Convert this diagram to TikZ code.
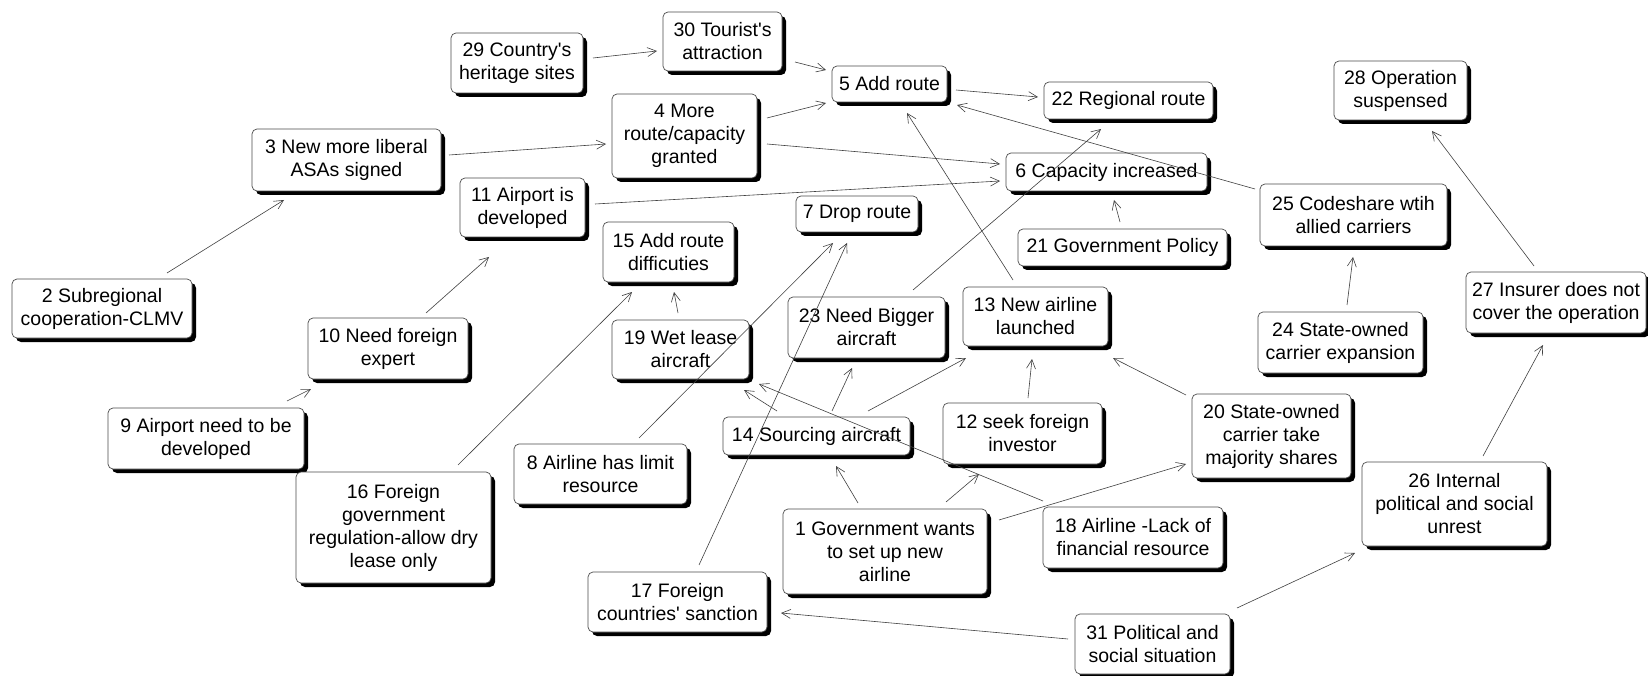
\documentclass[tikz,border=0pt]{standalone}
\usepackage{fontspec}
\setmainfont{Liberation Sans}
\usetikzlibrary{arrows.meta,calc,shadows}

\begin{document}
\begin{tikzpicture}[x=1pt,y=-1pt,
  box/.style={draw=black!70, line width=0.7pt, fill=white, rounded corners=5pt,
    align=center, inner sep=0pt, font=\fontsize{19.5}{23}\selectfont,
    drop shadow={shadow xshift=4pt, shadow yshift=-4pt, fill=black, opacity=1}},
  arr/.style={draw=black!75, line width=0.6pt,
    -{Straight Barb[length=9pt,width=9pt,line width=0.6pt]}}]

\useasboundingbox[fill=white] (0,0) rectangle (1648,676);

% factor boxes: centre, then width and height
\node[box, minimum width=204, minimum height=85] (n1)  at (885,551.5)  {1 Government wants\\to set up new\\airline};
\node[box, minimum width=180, minimum height=59] (n2)  at (102,308.5)  {2 Subregional\\cooperation-CLMV};
\node[box, minimum width=189, minimum height=62] (n3)  at (346.5,160)  {3 New more liberal\\ASAs signed};
\node[box, minimum width=145, minimum height=84] (n4)  at (684.5,136)  {4 More\\route/capacity\\granted};
\node[box, minimum width=115, minimum height=36] (n5)  at (889.5,84)   {5 Add route};
\node[box, minimum width=201, minimum height=38] (n6)  at (1106.5,172) {6 Capacity increased};
\node[box, minimum width=122, minimum height=36] (n7)  at (857,214)    {7 Drop route};
\node[box, minimum width=173, minimum height=60] (n8)  at (600.5,474)  {8 Airline has limit\\resource};
\node[box, minimum width=196, minimum height=61] (n9)  at (206,438.5)  {9 Airport need to be\\developed};
\node[box, minimum width=160, minimum height=61] (n10) at (388,348.5)  {10 Need foreign\\expert};
\node[box, minimum width=125, minimum height=59] (n11) at (522.5,207.5) {11 Airport is\\developed};
\node[box, minimum width=159, minimum height=61] (n12) at (1022.5,433.5) {12 seek foreign\\investor};
\node[box, minimum width=145, minimum height=59] (n13) at (1035.5,316.5) {13 New airline\\launched};
\node[box, minimum width=187, minimum height=38] (n14) at (816.5,436)  {14 Sourcing aircraft};
\node[box, minimum width=131, minimum height=60] (n15) at (668.5,252)  {15 Add route\\difficuties};
\node[box, minimum width=195, minimum height=111] (n16) at (393.5,527.5) {16 Foreign\\government\\regulation-allow dry\\lease only};
\node[box, minimum width=179, minimum height=60] (n17) at (677.5,602)  {17 Foreign\\countries\textquotesingle{} sanction};
\node[box, minimum width=180, minimum height=61] (n18) at (1133,537.5) {18 Airline -Lack of\\financial resource};
\node[box, minimum width=137, minimum height=59] (n19) at (680.5,349.5) {19 Wet lease\\aircraft};
\node[box, minimum width=159, minimum height=84] (n20) at (1271.5,436) {20 State-owned\\carrier take\\majority shares};
\node[box, minimum width=209, minimum height=37] (n21) at (1122.5,247.5) {21 Government Policy};
\node[box, minimum width=169, minimum height=37] (n22) at (1128.5,100.5) {22 Regional route};
\node[box, minimum width=157, minimum height=61] (n23) at (866.5,327.5) {23 Need Bigger\\aircraft};
\node[box, minimum width=165, minimum height=61] (n24) at (1340.5,342.5) {24 State-owned\\carrier expansion};
\node[box, minimum width=187, minimum height=62] (n25) at (1353.5,215) {25 Codeshare wtih\\allied carriers};
\node[box, minimum width=185, minimum height=84] (n26) at (1454.5,504) {26 Internal\\political and social\\unrest};
\node[box, minimum width=180, minimum height=61] (n27) at (1556,302.5) {27 Insurer does not\\cover the operation};
\node[box, minimum width=133, minimum height=59] (n28) at (1400.5,90.5) {28 Operation\\suspensed};
\node[box, minimum width=132, minimum height=60] (n29) at (517,63)     {29 Country\textquotesingle s\\heritage sites};
\node[box, minimum width=119, minimum height=59] (n30) at (722.5,41.5) {30 Tourist\textquotesingle s\\attraction};
\node[box, minimum width=155, minimum height=60] (n31) at (1152.5,644) {31 Political and\\social situation};

% causal links
\draw[arr] ($(n2.center)+(65,-35.5)$)   -- ($(n3.center)+(-62.5,40)$);
\draw[arr] ($(n3.center)+(102.5,-5)$)   -- ($(n4.center)+(-78.5,8)$);
\draw[arr] ($(n29.center)+(76,-5)$)     -- ($(n30.center)+(-65.5,9.5)$);
\draw[arr] ($(n30.center)+(72.5,20.5)$) -- ($(n5.center)+(-63.5,-14)$);
\draw[arr] ($(n4.center)+(82.5,-18)$)   -- ($(n5.center)+(-63.5,19)$);
\draw[arr] ($(n5.center)+(66.5,6)$)     -- ($(n22.center)+(-90.5,-3.5)$);
\draw[arr] ($(n25.center)+(-98.5,-26)$) -- ($(n5.center)+(67.5,21)$);
\draw[arr] ($(n4.center)+(82.5,8)$)     -- ($(n6.center)+(-106.5,-8)$);
\draw[arr] ($(n11.center)+(72.5,-3.5)$) -- ($(n6.center)+(-106.5,9)$);
\draw[arr] ($(n13.center)+(-22.5,-36.5)$) -- ($(n5.center)+(17.5,29)$);
\draw[arr] ($(n23.center)+(46.5,-37.5)$) -- ($(n22.center)+(-27.5,28.5)$);
\draw[arr] ($(n21.center)+(-2.5,-25.5)$) -- ($(n6.center)+(7.5,28)$);
\draw[arr] ($(n24.center)+(6.5,-37.5)$) -- ($(n25.center)+(-0.5,42)$);
\draw[arr] ($(n27.center)+(-22,-36.5)$) -- ($(n28.center)+(31.5,40.5)$);
\draw[arr] ($(n26.center)+(28.5,-48)$)  -- ($(n27.center)+(-13,42.5)$);
\draw[arr] ($(n10.center)+(38,-35.5)$)  -- ($(n11.center)+(-33.5,49.5)$);
\draw[arr] ($(n9.center)+(81,-37.5)$)   -- ($(n10.center)+(-77,40.5)$);
\draw[arr] ($(n16.center)+(64.5,-62.5)$) -- ($(n15.center)+(-36.5,40)$);
\draw[arr] ($(n19.center)+(-2.5,-36.5)$) -- ($(n15.center)+(5.5,40)$);
\draw[arr] ($(n8.center)+(38.5,-36)$)   -- ($(n7.center)+(-24,29)$);
\draw[arr] ($(n17.center)+(21.5,-37)$)  -- ($(n7.center)+(-10,29)$);
\draw[arr] ($(n14.center)+(-39.5,-25)$) -- ($(n19.center)+(63.5,40.5)$);
\draw[arr] ($(n18.center)+(-90,-36.5)$) -- ($(n19.center)+(78.5,34.5)$);
\draw[arr] ($(n14.center)+(15.5,-25)$)  -- ($(n23.center)+(-14.5,40.5)$);
\draw[arr] ($(n14.center)+(51.5,-25)$)  -- ($(n13.center)+(-69.5,41.5)$);
\draw[arr] ($(n12.center)+(5.5,-35.5)$) -- ($(n13.center)+(-3.5,42.5)$);
\draw[arr] ($(n20.center)+(-85.5,-41)$) -- ($(n13.center)+(77.5,41.5)$);
\draw[arr] ($(n1.center)+(-27,-48.5)$)  -- ($(n14.center)+(19.5,30)$);
\draw[arr] ($(n1.center)+(61,-49.5)$)   -- ($(n12.center)+(-43.5,40.5)$);
\draw[arr] ($(n1.center)+(114,-31.5)$)  -- ($(n20.center)+(-85.5,28)$);
\draw[arr] ($(n31.center)+(-84.5,-5)$)  -- ($(n17.center)+(103.5,11)$);
\draw[arr] ($(n31.center)+(84.5,-36)$)  -- ($(n26.center)+(-99.5,49)$);

\end{tikzpicture}
\end{document}
